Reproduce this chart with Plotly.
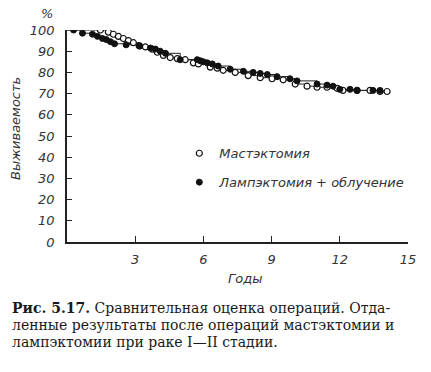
import plotly.graph_objects as go

# ---- data (years, survival %) ----
mast_t = [0, 1.47, 1.82, 2.04, 2.26, 2.48, 2.70, 2.92, 3.18, 3.45, 3.75, 3.97, 4.24, 4.54, 4.85,
          5.20, 5.56, 5.78, 6.30, 6.61, 6.87, 7.40, 7.97, 8.50, 9.02, 9.51, 10.04, 10.56, 11.00,
          11.44, 11.88, 12.14, 12.76, 13.33, 13.77, 14.08]
mast_v = [100, 100, 99, 98, 97, 96, 95, 94, 92.5, 92, 91, 89.5, 88, 87, 86.5,
          86, 84.5, 84, 82.5, 82, 81, 80, 78.5, 77.5, 77, 76.5, 74.5, 73.5, 73,
          73, 72.5, 71.5, 71.5, 71.5, 71, 71]

lump_t = [0, 0.29, 0.68, 1.12, 1.34, 1.56, 1.73, 1.91, 2.09, 2.60, 3.20, 3.67, 3.89, 4.10, 4.33,
          4.98, 5.73, 5.86, 6.00, 6.17, 6.39, 6.65, 7.18, 7.76, 8.19, 8.50, 8.81, 9.24, 9.81,
          10.12, 11.00, 11.44, 11.70, 12.00, 12.45, 12.76, 13.46, 13.77]
lump_v = [100, 100, 98.5, 98, 97, 96, 95.5, 94.5, 93.5, 93, 92.5, 91.5, 91, 90, 89,
          86, 86, 85.5, 85, 84.5, 84, 83, 81.5, 80.5, 80, 79.5, 79, 78, 77,
          76, 74.5, 74, 73.5, 72, 72, 71.5, 71.5, 71.5]

x_ticks = [3, 6, 9, 12, 15]
y_ticks = [0, 10, 20, 30, 40, 50, 60, 70, 80, 90, 100]

series_names = ["Мастэктомия", "Лампэктомия + облучение"]
y_title = "Выживаемость"
x_title = "Годы"
caption_lines = [
    "<b>Рис. 5.17.</b> Сравнительная оценка операций. Отда-",
    "ленные результаты после операций мастэктомии и",
    "лампэктомии при раке I—II стадии.",
]

# ---- geometry ----
W, H = 431, 372
L, R, T, B = 66.5, 23, 29.7, 130.3
PW, PH = W - L - R, H - T - B

def px(x):
    return (x - L) / PW

def py(y):
    return (H - B - y) / PH

sans = dict(family="DejaVu Sans", size=13, color="#333", style="italic")
serif = dict(family="DejaVu Serif", size=14, color="#1a1a1a", style="normal")

line_style = dict(color="#222", width=1, shape="hv")
fig = go.Figure()
# step lines (no legend entry)
fig.add_trace(go.Scatter(x=mast_t, y=mast_v, mode="lines", line=line_style,
                         showlegend=False, hoverinfo="skip"))
fig.add_trace(go.Scatter(x=lump_t, y=lump_v, mode="lines", line=line_style,
                         showlegend=False, hoverinfo="skip"))
# markers (legend entries)
fig.add_trace(go.Scatter(
    x=mast_t[1:], y=mast_v[1:], name=series_names[0], legendgroup="a", mode="markers",
    marker=dict(symbol="circle", size=6, color="white", line=dict(color="#111", width=1.2)),
))
fig.add_trace(go.Scatter(
    x=lump_t[1:], y=lump_v[1:], name=series_names[1], legendgroup="b", mode="markers",
    marker=dict(symbol="circle", size=6, color="#111", line=dict(color="#111", width=1)),
))

fig.update_layout(
    width=W, height=H,
    margin=dict(l=L, r=R, t=T, b=B, pad=0),
    paper_bgcolor="white", plot_bgcolor="white",
    showlegend=True,
    legend=dict(x=px(179), y=py(138), xanchor="left", yanchor="top",
                font=sans, bgcolor="rgba(0,0,0,0)", tracegroupgap=9,
                itemwidth=30),
    font=sans,
)
fig.update_xaxes(range=[0, 15], tickvals=x_ticks, showline=True, linecolor="#222", linewidth=1.5,
                 ticks="inside", ticklen=6, tickcolor="#222", showgrid=False, zeroline=False,
                 tickfont=sans, ticklabelstandoff=5)
fig.update_yaxes(range=[0, 100], tickvals=y_ticks, showline=True, linecolor="#222", linewidth=1.5,
                 ticks="inside", ticklen=5, tickcolor="#222", showgrid=False, zeroline=False,
                 tickfont=sans, ticklabelstandoff=8)

ann = [
    dict(text="%", x=px(46), y=py(13), xref="paper", yref="paper", showarrow=False,
         xanchor="center", yanchor="middle", font=sans),
    dict(text=y_title, x=px(15), y=py(128), xref="paper", yref="paper", showarrow=False,
         xanchor="center", yanchor="middle", textangle=-90, font=sans),
    dict(text=x_title, x=px(245), y=py(278), xref="paper", yref="paper", showarrow=False,
         xanchor="center", yanchor="middle", font=sans),
]
for i, line in enumerate(caption_lines):
    ann.append(dict(text=line, x=px(9), y=py(308 + 17 * i), xref="paper", yref="paper",
                    xanchor="left", yanchor="middle", showarrow=False, font=serif))
fig.update_layout(annotations=ann)

fig.write_html("out.html", config={"displayModeBar": False},
               post_script="document.body.style.margin='0';")
